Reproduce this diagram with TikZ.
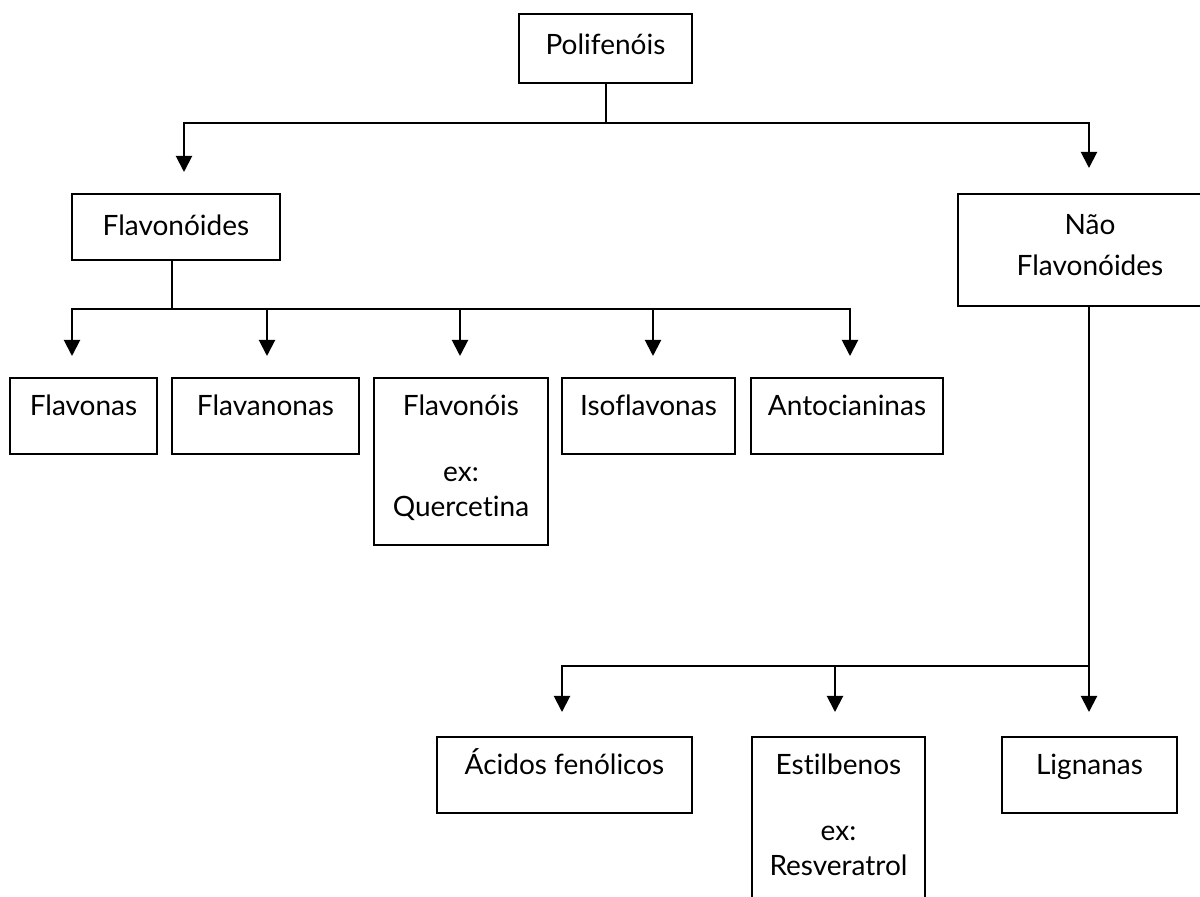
\documentclass[tikz,border=0pt]{standalone}
\usepackage{fontspec}
\setmainfont[Ligatures=NoCommon]{Lato}
\usepackage{tikz}
\usetikzlibrary{arrows.meta}

\begin{document}
\begin{tikzpicture}[x=0.5pt, y=-0.5pt,
    every node/.style={font=\fontsize{14}{17.5}\selectfont},
    box/.style={draw, line width=0.7pt, inner sep=0pt, anchor=base},
    row/.style={box, text height=19pt, text depth=19pt},
    link/.style={line width=1pt},
    arr/.style={link, -{Triangle[length=8pt, width=8pt]}}]
  \useasboundingbox (0,0) rectangle (1200,897);
  % top level
  \node[box, minimum width=86.5pt, text height=20.5pt, text depth=14pt] (poli) at (605.5,55) {Polifenóis};
  \node[box, minimum width=104pt, text height=21pt, text depth=12pt] (flavo) at (176,236) {Flavonóides};
  \node[box, minimum width=132pt, text width=132pt, align=center,
        text height=20.5pt, text depth=35.5pt] (nflavo) at (1090,235) {Não\\[3pt]Flavonóides};
  % flavonoid classes
  \node[row, minimum width=73.5pt] (flavonas) at (83.5,416) {Flavonas};
  \node[row, minimum width=93.5pt] (flavanonas) at (265.5,416) {Flavanonas};
  \node[box, minimum width=87pt, text width=87pt, align=center,
        text height=19pt, text depth=64.5pt] (flavonois) at (461,416) {Flavonóis\\[15.5pt]ex:\\Quercetina};
  \node[row, minimum width=86.5pt] (isoflav) at (648.5,416) {Isoflavonas};
  \node[row, minimum width=96pt] (antoc) at (847,416) {Antocianinas};
  % non-flavonoid classes
  \node[row, minimum width=127.5pt] (acidos) at (564.5,775) {Ácidos fenólicos};
  \node[box, minimum width=86.5pt, text width=86.5pt, align=center,
        text height=19pt, text depth=72.5pt] (estilb) at (838.5,775) {Estilbenos\\[15.5pt]ex:\\Resveratrol};
  \node[row, minimum width=87.5pt] (lignanas) at (1089.5,775) {Lignanas};
  % first split
  \coordinate (p0) at (605.5,123);
  \coordinate (pL) at (184,172);
  \coordinate (pR) at (1089,168);
  \draw[link] (poli.south) -- (p0);
  \draw[arr] (p0) -| (pL);
  \draw[arr] (p0) -| (pR);
  % flavonoids
  \coordinate (f0) at (172,309);
  \draw[link] (flavo.south -| f0) -- (f0);
  \foreach \x in {72,267,460,653,850}
    \draw[arr] (f0) -| (\x,356);
  % non-flavonoids
  \coordinate (n0) at (1089,666);
  \draw[link] (nflavo.south -| n0) -- (n0);
  \foreach \x in {562,835,1089}
    \draw[arr] (n0) -| (\x,712);
\end{tikzpicture}
\end{document}
